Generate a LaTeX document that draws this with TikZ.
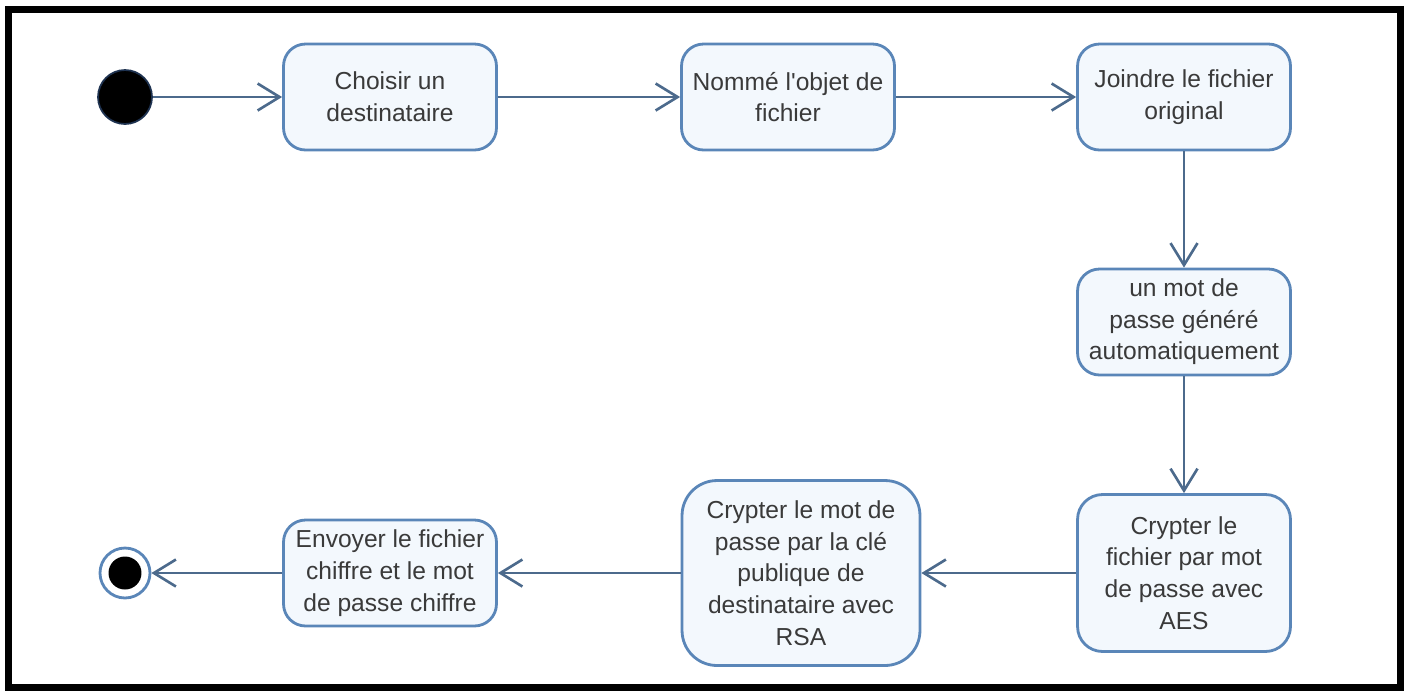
\documentclass[tikz,border=0pt]{standalone}
\usepackage{fontspec}
\setmainfont{Liberation Sans}
\usetikzlibrary{arrows.meta,positioning}
\definecolor{boxline}{HTML}{5A86B8}
\definecolor{boxfill}{HTML}{F3F8FD}
\definecolor{flowline}{HTML}{4C6A8C}
\definecolor{labeltext}{HTML}{3A3A3A}
\begin{document}
\begin{tikzpicture}[
    x=0.02cm, y=-0.02cm,
    activity/.style={draw=boxline, fill=boxfill, line width=1.6pt, rounded corners=0.44cm, minimum width=4.26cm, minimum height=2.12cm, inner sep=0pt, align=center, text=labeltext, font=\fontsize{14}{18}\selectfont},
    initial/.style={circle, fill=black, draw={rgb,255:red,30;green,50;blue,80}, line width=1pt, minimum size=1.08cm, inner sep=0pt},
    final/.style={circle, fill=white, draw=boxline, line width=1.6pt, minimum size=1.0cm, inner sep=0pt,
      path picture={\fill[black] (path picture bounding box.center) circle (0.33cm);}},
    arrow/.style={-{Straight Barb[length=4.4mm, width=5.4mm, line width=1.5pt]}, draw=flowline, line width=1.5pt}
  ]
    \useasboundingbox (0,0) rectangle (1409,691);
    \draw[line width=0.14cm] (8.5,9.5) rectangle (1400,687.5);

    \node[initial] (start) at (125,97) {};
    \node[activity] (choose) at (390,97) {Choisir un\\destinataire};
    \node[activity] (name) at (788,97) {Nommé l\textquotesingle objet de\\fichier};
    \node[activity] (attach) at (1184,97) {Joindre le fichier\\original};
    \node[activity] (pwd) at (1184,322) {un mot de\\passe généré\\automatiquement};
    \node[activity, minimum height=3.14cm, rounded corners=0.5cm] (aes) at (1184,573) {Crypter le\\fichier par mot\\de passe avec\\AES};
    \node[activity, minimum width=4.76cm, minimum height=3.7cm, rounded corners=0.7cm] (rsa) at (801,573) {Crypter le mot de\\passe par la clé\\publique de\\destinataire avec\\RSA};
    \node[activity] (send) at (390,573) {Envoyer le fichier\\chiffre et le mot\\de passe chiffre};
    \node[final] (end) at (125,573) {};

    \draw[arrow] (start) -- (choose);
    \draw[arrow] (choose) -- (name);
    \draw[arrow] (name) -- (attach);
    \draw[arrow] (attach) -- (pwd);
    \draw[arrow] (pwd) -- (aes);
    \draw[arrow] (aes) -- (rsa);
    \draw[arrow] (rsa) -- (send);
    \draw[arrow] (send) -- (end);
  \end{tikzpicture}
\end{document}
